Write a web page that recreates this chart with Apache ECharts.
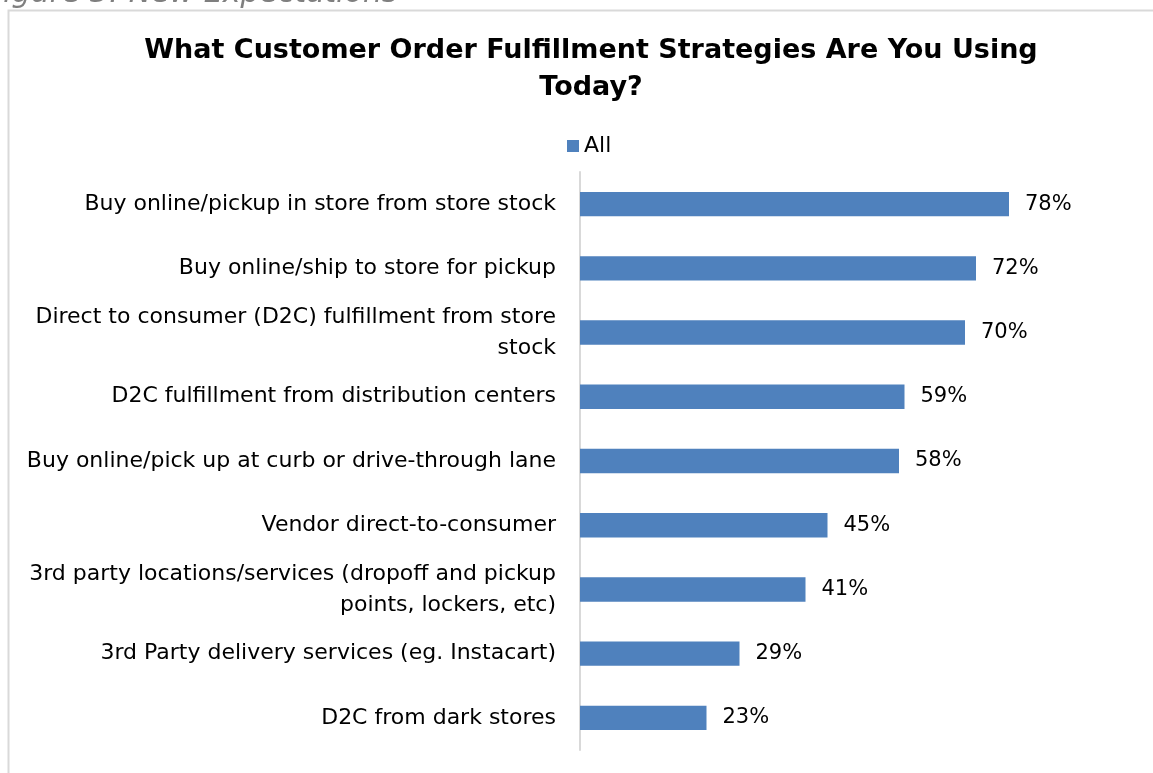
<!DOCTYPE html>
<html>
<head>
<meta charset="utf-8">
<script src="https://cdn.jsdelivr.net/npm/echarts@6/dist/echarts.min.js"></script>
<style>
  html, body { margin: 0; padding: 0; background: #fff; }
  #chart { width: 1153px; height: 773px; }
</style>
</head>
<body>
<div id="chart"></div>
<script>
// Fulfillment strategies in use today, share of respondents (%)
const categories = [
  'Buy online/pickup in store from store stock',
  'Buy online/ship to store for pickup',
  'Direct to consumer (D2C) fulfillment from store\nstock',
  'D2C fulfillment from distribution centers',
  'Buy online/pick up at curb or drive-through lane',
  'Vendor direct-to-consumer',
  '3rd party locations/services (dropoff and pickup\npoints, lockers, etc)',
  '3rd Party delivery services (eg. Instacart)',
  'D2C from dark stores'
];
const allValues = [78, 72, 70, 59, 58, 45, 41, 29, 23];
const seriesName = 'All';
const titleText = 'What Customer Order Fulfillment Strategies Are You Using\nToday?';
const captionText = 'Figure 3: New Expectations';

const FONT = '"DejaVu Sans", sans-serif';
const chart = echarts.init(document.getElementById('chart'));

chart.setOption({
  animation: false,
  textStyle: { fontFamily: FONT },
  title: {
    text: titleText,
    left: 586,
    textAlign: 'center',
    top: 27,
    textStyle: { fontFamily: FONT, fontSize: 27, fontWeight: 'bold', color: '#000', lineHeight: 37 }
  },
  graphic: [
    {
      type: 'rect',
      shape: { x: 8.5, y: 10.5, width: 1160, height: 800 },
      style: { fill: 'none', stroke: '#d9d9d9', lineWidth: 2 },
      silent: true, z: -1
    },
    {
      type: 'text',
      left: -14, top: -21,
      style: { text: captionText, fontFamily: FONT, fontStyle: 'italic', fontSize: 30, fill: '#7f7f7f' },
      silent: true
    }
  ],
  legend: {
    data: [seriesName],
    left: 562, top: 130,
    itemWidth: 12, itemHeight: 12, itemGap: 6,
    icon: 'rect',
    textStyle: { fontFamily: FONT, fontSize: 22, color: '#000' }
  },
  grid: { left: 580, right: 23, top: 172, bottom: 23, containLabel: false },
  xAxis: {
    type: 'value', min: 0, max: 100,
    show: false
  },
  yAxis: {
    type: 'category',
    data: categories,
    inverse: true,
    axisLine: { show: true, lineStyle: { color: '#d9d9d9', width: 2 } },
    axisTick: { show: false },
    axisLabel: {
      margin: 24,
      fontFamily: FONT, fontSize: 22, color: '#000', lineHeight: 31, align: 'right'
    }
  },
  series: [{
    name: seriesName,
    type: 'bar',
    data: allValues,
    barCategoryGap: '62%',
    itemStyle: { color: '#4f81bd' },
    label: {
      show: true, position: 'right', distance: 16,
      formatter: p => p.value + '%',
      fontFamily: FONT, fontSize: 21, color: '#000'
    }
  }]
});
</script>
</body>
</html>
